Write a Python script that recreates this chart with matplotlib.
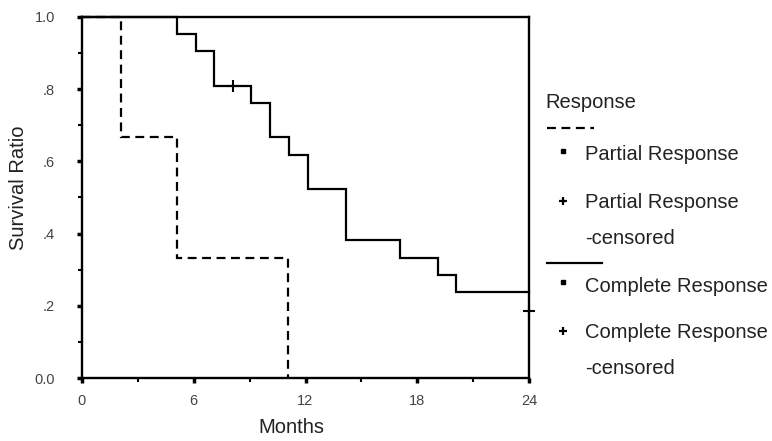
import matplotlib
matplotlib.use("Agg")
import matplotlib.pyplot as plt
from matplotlib.lines import Line2D
from matplotlib.ticker import MultipleLocator, FixedLocator

# ---- data ----
partial_times = [0, 2.1, 5.1, 11.05]
partial_surv = [1.0, 0.667, 0.333, 0.0]
partial_end = 11.05

complete_times = [0, 5.1, 6.1, 7.1, 9.1, 10.1, 11.1, 12.15, 14.15, 17.1, 19.1, 20.1]
complete_surv = [1.0, 0.952, 0.905, 0.810, 0.762, 0.667, 0.619, 0.524, 0.381, 0.333, 0.286, 0.238]
complete_end = 24.0
complete_cens_t = [8.1, 24.0]
complete_cens_s = [0.810, 0.185]

x_ticks = [0, 6, 12, 18, 24]
x_ticklabels = ["0", "6", "12", "18", "24"]
y_ticks = [0.0, 0.2, 0.4, 0.6, 0.8, 1.0]
y_ticklabels = ["0.0", ".2", ".4", ".6", ".8", "1.0"]

legend_title = "Response"
legend_items = ["Partial Response", "Partial Response", "-censored",
                "Complete Response", "Complete Response", "-censored"]

plt.rcParams['font.family'] = ['Liberation Sans', 'DejaVu Sans']

W, H = 772, 441
fig = plt.figure(figsize=(W / 100, H / 100), dpi=100)
ax = fig.add_axes([82 / W, 1 - 378 / H, (529 - 82) / W, (378 - 17) / H])

def step_xy(times, surv, end):
    xs, ys = [], []
    for i, (t, s) in enumerate(zip(times, surv)):
        nxt = times[i + 1] if i + 1 < len(times) else end
        xs += [t, nxt]
        ys += [s, s]
    return xs, ys

px, py = step_xy(partial_times, partial_surv, partial_end)
cx, cy = step_xy(complete_times, complete_surv, complete_end)

lw = 1.6
ax.plot(px, py, color="black", lw=lw, linestyle=(0, (4, 2.5)), clip_on=False,
        solid_joinstyle="miter", dash_joinstyle="miter")
ax.plot(cx, cy, color="black", lw=lw, clip_on=False, solid_joinstyle="miter")
ax.plot(complete_cens_t, complete_cens_s, linestyle="none", marker="+",
        markersize=8, markeredgewidth=1.5, color="black", clip_on=False)

ax.set_xlim(0, 24)
ax.set_ylim(0, 1)
ax.xaxis.set_major_locator(FixedLocator(x_ticks))
ax.set_xticklabels(x_ticklabels)
ax.xaxis.set_minor_locator(MultipleLocator(3))
ax.yaxis.set_major_locator(FixedLocator(y_ticks))
ax.set_yticklabels(y_ticklabels)
ax.yaxis.set_minor_locator(MultipleLocator(0.1))

for sp in ax.spines.values():
    sp.set_linewidth(1.7)
    sp.set_color("black")

ax.tick_params(axis="both", which="major", direction="out", length=3.5, width=2.5,
               colors="black", labelcolor="#444444", labelsize=10.5)
ax.tick_params(axis="x", which="major", pad=8)
ax.tick_params(axis="y", which="major", pad=16)
ax.tick_params(axis="both", which="minor", direction="out", length=3, width=1.5,
               colors="black")

ax.set_ylabel("Survival Ratio", fontsize=14.5, color="#222222")
ax.yaxis.set_label_coords(-0.121, 0.526)
ax.set_xlabel("Months", fontsize=14.5, color="#222222")
ax.xaxis.set_label_coords(0.468, -0.112)

def fx(x):
    return x / W

def fy(y):
    return 1 - y / H

tc = "#222222"
fs = 14.5
fig.text(fx(545), fy(103), legend_title, fontsize=fs, color=tc, va="center", ha="left")
fig.add_artist(Line2D([fx(547), fx(594)], [fy(127.5), fy(127.5)], transform=fig.transFigure,
                      color="black", lw=1.6, linestyle=(0, (4, 2.5))))
fig.add_artist(Line2D([fx(547), fx(602)], [fy(262.5), fy(262.5)], transform=fig.transFigure,
                      color="black", lw=1.6))

rows = [(155, "s", legend_items[0]), (203, "+", legend_items[1]), (238, None, legend_items[2]),
        (286, "s", legend_items[3]), (333, "+", legend_items[4]), (369, None, legend_items[5])]
for y, mk, label in rows:
    if mk == "s":
        fig.add_artist(Line2D([fx(563)], [fy(y - 4)], transform=fig.transFigure, marker="s",
                              markersize=3.5, color="black", linestyle="none"))
    elif mk == "+":
        fig.add_artist(Line2D([fx(563)], [fy(y - 2)], transform=fig.transFigure, marker="+",
                              markersize=6, markeredgewidth=1.6, color="black", linestyle="none"))
    fig.text(fx(585), fy(y), label, fontsize=fs, color=tc, va="center", ha="left")

fig.savefig("out.png", dpi=100, facecolor="white")
